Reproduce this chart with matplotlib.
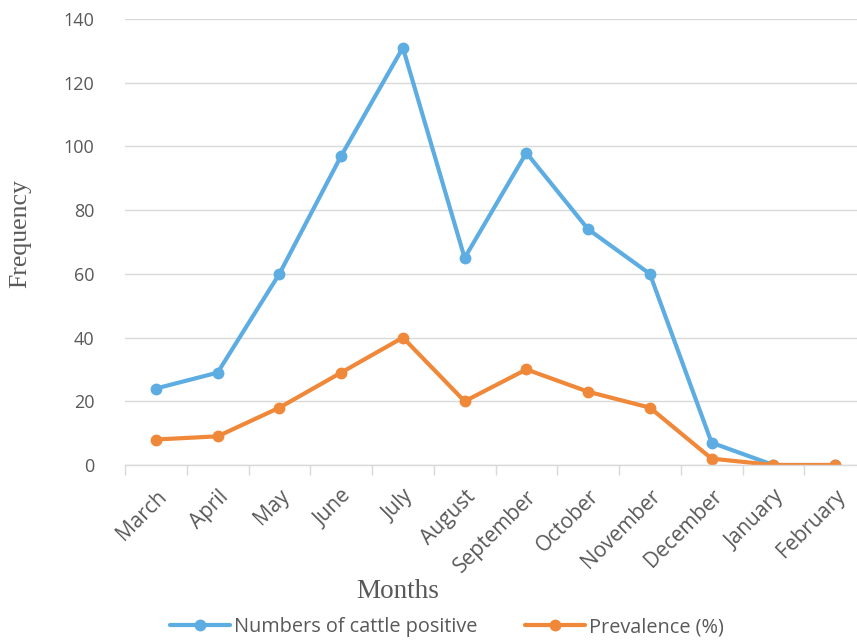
import matplotlib
matplotlib.use('Agg')
import matplotlib.pyplot as plt
from matplotlib.ticker import FixedLocator

months = ['March', 'April', 'May', 'June', 'July', 'August', 'September',
          'October', 'November', 'December', 'January', 'February']
cattle_positive = [24, 29, 60, 97, 131, 65, 98, 74, 60, 7, 0, 0]
prevalence = [8, 9, 18, 29, 40, 20, 30, 23, 18, 2, 0, 0]

blue = '#5DADE2'
orange = '#F0883A'
grey = '#595959'
sans = 'Open Sans'

fig = plt.figure(figsize=(8.57, 6.4), dpi=100)
ax = fig.add_axes([125 / 857, 175 / 640, 741 / 857, 446 / 640])

x = list(range(len(months)))
ax.plot(x, cattle_positive, color=blue, lw=3, marker='o', ms=7.5,
        label='Numbers of cattle positive', solid_capstyle='round')
ax.plot(x, prevalence, color=orange, lw=3, marker='o', ms=7.5,
        label='Prevalence (%)', solid_capstyle='round')

ax.set_xlim(-0.5, len(months) - 0.5)
ax.set_ylim(0, 140)
ax.set_yticks(range(0, 141, 20))
ax.grid(axis='y', color='#d9d9d9', lw=1)
ax.set_axisbelow(True)

for s in ['top', 'right', 'left']:
    ax.spines[s].set_visible(False)
ax.spines['bottom'].set_color('#d9d9d9')
ax.spines['bottom'].set_linewidth(1)
ax.spines['bottom'].set_clip_on(False)

ax.set_xticks(x)
ax.set_xticklabels(months, rotation=45, ha='right', rotation_mode='anchor',
                   fontsize=15, color=grey, family=sans)
ax.tick_params(axis='x', length=0, pad=15)
ax.xaxis.set_minor_locator(FixedLocator([i - 0.5 for i in range(len(months) + 1)]))
ax.tick_params(axis='x', which='minor', length=7, color='#d9d9d9', width=1)
ax.tick_params(axis='y', length=0, labelsize=13, labelcolor=grey, pad=22)
for lab in ax.get_yticklabels():
    lab.set_family(sans)

fig.text(20 / 857, 1 - 234 / 640, 'Frequency', rotation=90, ha='center', va='center',
         family='Liberation Serif', fontsize=18.5, color=grey)
fig.text(398 / 857, 1 - 592 / 640, 'Months', ha='center', va='center',
         family='Liberation Serif', fontsize=19.5, color=grey)

leg = fig.legend(loc='center', bbox_to_anchor=(447 / 857, 1 - 627 / 640), ncol=2,
                 frameon=False, handlelength=3, columnspacing=2.4,
                 handletextpad=0.2, prop={'family': sans, 'size': 14.3})
for t in leg.get_texts():
    t.set_color(grey)

fig.savefig('out.png', dpi=100)
